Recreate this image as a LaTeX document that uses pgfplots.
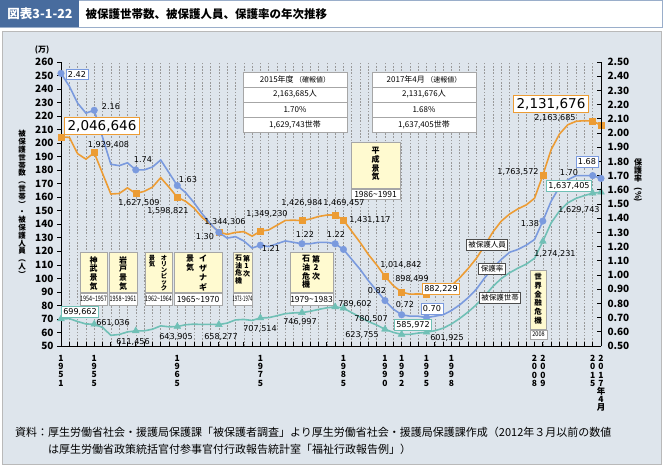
\documentclass[border=0pt]{standalone}
\usepackage{pgfplots}
\usepackage{pgfplotstable}
\pgfplotsset{compat=1.18}
\usepackage{fontspec}
\setmainfont{Noto Sans CJK JP}
\newfontfamily\numf{DejaVu Sans}
\definecolor{bg}{RGB}{222,229,236}
\definecolor{orn}{RGB}{236,156,52}
\definecolor{blu}{RGB}{122,154,222}
\definecolor{tea}{RGB}{112,192,182}
\definecolor{ttl}{RGB}{72,108,158}
\definecolor{ylw}{RGB}{255,250,208}
\newcommand\lb{\numf\fontsize{8.1}{9}\selectfont}

\pgfplotstableread{
yr pers rate hh
1951 204.66 2.42 69.97
1952 204.26 2.33 70.25
1953 192.21 2.21 68.11
1954 188.17 2.14 66.30
1955 192.94 2.16 66.10
1956 177.60 1.97 63.76
1957 162.37 1.78 57.90
1958 162.76 1.77 58.50
1959 166.92 1.79 60.40
1960 162.75 1.74 61.15
1961 164.34 1.74 61.20
1962 167.40 1.76 62.40
1963 174.46 1.81 64.90
1964 167.47 1.72 64.19
1965 159.88 1.63 64.39
1966 157.01 1.58 65.72
1967 152.07 1.51 66.16
1968 145.00 1.43 65.91
1969 139.87 1.36 66.05
1970 134.43 1.30 65.83
1971 132.52 1.26 66.94
1972 134.00 1.27 69.28
1973 134.55 1.24 69.65
1974 131.23 1.19 68.90
1975 134.92 1.21 70.75
1976 135.83 1.20 70.96
1977 139.31 1.22 72.36
1978 142.83 1.24 73.92
1979 143.05 1.23 74.48
1980 142.70 1.22 74.70
1981 143.92 1.22 75.67
1982 145.74 1.23 77.04
1983 146.82 1.23 78.23
1984 146.95 1.22 78.96
1985 143.11 1.18 78.05
1986 134.82 1.11 74.64
1987 126.61 1.04 71.38
1988 117.63 0.96 68.10
1989 109.95 0.89 65.49
1990 101.48 0.82 62.38
1991 94.64 0.76 60.07
1992 89.85 0.72 58.60
1993 88.31 0.71 58.61
1994 88.49 0.71 59.54
1995 88.22 0.70 60.19
1996 88.75 0.71 61.31
1997 90.56 0.72 63.15
1998 94.70 0.75 66.31
1999 100.45 0.79 70.41
2000 107.22 0.84 75.13
2001 114.81 0.90 80.52
2002 124.27 0.98 87.09
2003 134.43 1.05 94.13
2004 142.34 1.11 99.89
2005 147.58 1.16 104.15
2006 151.39 1.18 107.58
2007 154.33 1.21 110.53
2008 159.26 1.25 114.88
2009 176.36 1.38 127.42
2010 195.21 1.52 141.00
2011 206.72 1.62 149.84
2012 213.57 1.67 155.85
2013 216.16 1.70 159.18
2014 216.59 1.70 161.23
2015 216.37 1.70 162.97
2016 213.17 1.68 163.74
}\mydata

\pgfplotstableread{
yr pers rate hh
1951 204.66 2.42 69.97
1955 192.94 2.16 66.10
1960 162.75 1.74 61.15
1965 159.88 1.63 64.39
1970 134.43 1.30 65.83
1975 134.92 1.21 70.75
1980 142.70 1.22 74.70
1984 146.95 1.22 78.96
1985 143.11 1.18 78.05
1990 101.48 0.82 62.38
1992 89.85 0.72 58.60
1995 88.22 0.70 60.19
2009 176.36 1.38 127.42
2015 216.37 1.70 162.97
2016 213.17 1.68 163.74
}\mymarks

\pgfplotsset{geom/.style={at={(61pt,120pt)}, anchor=south west, scale only axis,
  width=540pt, height=284pt, xmin=1951, xmax=2016, clip=false}}

\begin{document}
\begin{tikzpicture}
\useasboundingbox (0,0) rectangle (663pt,466pt);
\begin{scope}[x=1pt,y=-1pt,shift={(0pt,466pt)}]
 \fill[white] (0,0) rectangle (663,466);
 \draw[ttl!55, line width=0.8pt, fill=white] (0.5,0.5) rectangle (662.5,27);
 \fill[ttl] (0,0) rectangle (79,27.5);
 \node[white, font=\fontsize{12.5}{13}\bfseries\selectfont] at (40,14) {図表3-1-22};
 \node[font=\fontsize{11.5}{12}\bfseries\selectfont, anchor=west] at (82,14) {被保護世帯数、被保護人員、保護率の年次推移};
 \draw[gray!55, line width=1pt, fill=bg] (2,32) rectangle (661,464);
 \node[font=\fontsize{11}{12}\selectfont, anchor=west, inner sep=0pt] at (15,432) {資料：厚生労働省社会・援護局保護課「被保護者調査」より厚生労働省社会・援護局保護課作成（2012年３月以前の数値};
 \node[font=\fontsize{11}{12}\selectfont, anchor=west, inner sep=0pt] at (48,449) {は厚生労働省政策統括官付参事官付行政報告統計室「福祉行政報告例」）};
 \node[font=\fontsize{8}{8}\bfseries\selectfont] at (42,50) {(万)};
 \node[font=\fontsize{7.5}{7.8}\bfseries\selectfont, align=center, inner sep=0pt] at (22,204)
   {被\\保\\護\\世\\帯\\数\\︵\\世\\帯\\︶\\・\\被\\保\\護\\人\\員\\︵\\人\\︶};
 \node[font=\fontsize{8}{8.2}\bfseries\selectfont, align=center, inner sep=0pt, anchor=north] at (638,158) {保\\護\\率};
 \node[font=\fontsize{8}{8}\bfseries\selectfont, inner sep=0pt] at (638,195) {\rotatebox{-90}{(\%)}};
\end{scope}

% axis 1: grid, left axis, x axis
\begin{axis}[geom, ymin=50, ymax=260,
  axis x line*=bottom, axis y line*=left,
  axis line style={line width=0.9pt, black},
  xtick={1951,...,2016}, xticklabels={},
  xmajorgrids, major grid style={gray!80, line width=0.5pt, dash pattern=on 1.6pt off 1.6pt},
  xtick align=inside, ytick align=outside, major tick length=4pt,
  tick style={black, line width=0.7pt},
  ytick={50,60,...,260},
  yticklabel style={font=\fontsize{10}{10}\bfseries\selectfont},
  /pgf/number format/assume math mode=true,
  extra x ticks={1951,1955,1965,1975,1985,1990,1992,1995,1998,2008,2009,2015,2016},
  extra x tick labels={{1\\9\\5\\1},{1\\9\\5\\5},{1\\9\\6\\5},{1\\9\\7\\5},{1\\9\\8\\5},{1\\9\\9\\0},{1\\9\\9\\2},{1\\9\\9\\5},{1\\9\\9\\8},{2\\0\\0\\8},{2\\0\\0\\9},{2\\0\\1\\5},{2\\0\\1\\7\\年\\4\\月}},
  extra x tick style={grid=none, major tick length=0pt,
    tick label style={align=center, anchor=north, yshift=-6pt, font=\fontsize{8.5}{8.1}\bfseries\selectfont}},
]
\addplot[draw=none] coordinates {(1951,50)};
\end{axis}

% decorations behind series
\begin{scope}[x=1pt,y=-1pt,shift={(0pt,466pt)}, ebox/.style={draw=gray!70, fill=ylw, line width=0.6pt}, ybox/.style={draw=gray!70, fill=white, line width=0.6pt},
  vt/.style={align=center, inner sep=0pt, anchor=north}]
 % tables
 \foreach \x in {243,372}{
   \draw[gray!70, fill=white, line width=0.6pt] (\x,72) rectangle (\x+104,132);
   \foreach \y in {87,102,117} \draw[gray!70, line width=0.6pt] (\x,\y) -- (\x+104,\y);
 }
 \begin{scope}[every node/.style={font=\fontsize{8}{8}\selectfont, inner sep=0pt}]
 \node at (295,79.5) {2015年度\,{\fontsize{7}{7}\selectfont（確報値）}};
 \node at (295,94.5) {2,163,685人};
 \node at (295,109.5) {1.70\%};
 \node at (295,124.5) {1,629,743世帯};
 \node at (424,79.5) {2017年4月\,{\fontsize{7}{7}\selectfont（速報値）}};
 \node at (424,94.5) {2,131,676人};
 \node at (424,109.5) {1.68\%};
 \node at (424,124.5) {1,637,405世帯};
 \end{scope}
 % event boxes
 \draw[ebox] (80,252) rectangle (107,292); \draw[ybox] (80,293) rectangle (107,305);
 \draw[ebox] (109,252) rectangle (137,292); \draw[ybox] (109,293) rectangle (137,305);
 \draw[ebox] (145,252) rectangle (172,292); \draw[ybox] (145,293) rectangle (172,305);
 \draw[ebox] (174,252) rectangle (222,292); \draw[ybox] (174,293) rectangle (222,305);
 \draw[ebox] (233,252) rectangle (252,292); \draw[ybox] (233,293) rectangle (252,305);
 \draw[ebox] (290,252) rectangle (333,292); \draw[ybox] (290,293) rectangle (333,305);
 \draw[ebox] (351,142) rectangle (400,188); \draw[ybox] (351,189) rectangle (400,199);
 \draw[ebox] (530,270) rectangle (546,329); \draw[ybox] (530,330) rectangle (547,339);
 \begin{scope}[every node/.style={vt, font=\fontsize{8}{8.8}\bfseries\selectfont}]
 \node at (93.5,256) {神\\武\\景\\気};
 \node at (123,256) {岩\\戸\\景\\気};
 \node[font=\fontsize{6.3}{6}\bfseries\selectfont] at (164,255) {オ\\リ\\ン\\ピ\\ッ\\ク};
 \node[font=\fontsize{6.3}{6.5}\bfseries\selectfont] at (152,255) {景\\気};
 \node[font=\fontsize{8}{9.5}\bfseries\selectfont] at (203,255) {イ\\ザ\\ナ\\ギ};
 \node at (190,255) {景\\気};
 \node[font=\fontsize{7}{7.5}\bfseries\selectfont] at (246.5,255) {第\\1\\次};
 \node[font=\fontsize{7}{7.5}\bfseries\selectfont] at (238.5,255) {石\\油\\危\\機};
 \node at (316,255) {第\\2\\次};
 \node at (306,255) {石\\油\\危\\機};
 \node at (375.5,147) {平\\成\\景\\気};
 \node[font=\fontsize{7.5}{8.8}\bfseries\selectfont] at (538,273) {世\\界\\金\\融\\危\\機};
 \end{scope}
 \begin{scope}[every node/.style={inner sep=0pt, font=\fontsize{7.5}{7.5}\selectfont}]
 \node at (93.5,299) {\scalebox{0.72}[1]{1954\textasciitilde1957}};
 \node at (123,299) {\scalebox{0.72}[1]{1958\textasciitilde1961}};
 \node at (158.5,299) {\scalebox{0.72}[1]{1962\textasciitilde1964}};
 \node[font=\fontsize{8.5}{8.5}\selectfont] at (198,299) {1965\textasciitilde1970};
 \node at (242.5,299) {\scalebox{0.55}[1]{1973-1974}};
 \node[font=\fontsize{8.5}{8.5}\selectfont] at (311.5,299) {1979\textasciitilde1983};
 \node[font=\fontsize{8.5}{8.5}\selectfont] at (375.5,194) {1986\textasciitilde1991};
 \node[font=\fontsize{6.5}{6.5}\selectfont] at (538.5,334.5) {\scalebox{0.85}[1]{2008}};
 \end{scope}
\end{scope}

% axis 2: persons and households
\begin{axis}[geom, ymin=50, ymax=260, hide axis]
\addplot[tea, line width=1.6pt] table[x=yr, y=hh]{\mydata};
\addplot[only marks, mark=triangle*, mark size=4pt, tea] table[x=yr, y=hh]{\mymarks};
\addplot[orn, line width=1.6pt] table[x=yr, y=pers]{\mydata};
\addplot[only marks, mark=square*, mark size=3pt, orn] table[x=yr, y=pers]{\mymarks};
\end{axis}

% axis 3: rate
\begin{axis}[geom, ymin=0.5, ymax=2.5,
  axis y line*=right, axis x line=none,
  axis line style={line width=0.9pt, black},
  ytick={0.5,0.6,0.7,0.8,0.9,1.0,1.1,1.2,1.3,1.4,1.5,1.6,1.7,1.8,1.9,2.0,2.1,2.2,2.3,2.4,2.5},
  ytick align=inside, major tick length=4pt, tick style={black, line width=0.7pt},
  yticklabel style={font=\fontsize{10}{10}\bfseries\selectfont, xshift=3pt},
  /pgf/number format/assume math mode=true,
  /pgf/number format/.cd, fixed, fixed zerofill, precision=2]
\addplot[blu, line width=1.6pt] table[x=yr, y=rate]{\mydata};
\addplot[only marks, mark=*, mark size=3.3pt, blu] table[x=yr, y=rate]{\mymarks};
\end{axis}

% data labels
\begin{scope}[x=1pt,y=-1pt,shift={(0pt,466pt)}, every node/.style={font=\lb, inner sep=0pt},
  bx/.style={fill=white, line width=0.9pt, inner sep=2pt}]
 % persons
 \node[bx, draw=orn, font=\numf\fontsize{13.5}{14}\selectfont, inner sep=3pt] at (102,126) {2,046,646};
 \node at (108.5,145) {1,929,408};
 \node at (139,203) {1,627,509};
 \node at (168,211) {1,598,821};
 \node at (225,222) {1,344,306};
 \node at (267,214) {1,349,230};
 \node at (302,203) {1,426,984};
 \node at (344,203) {1,469,457};
 \node at (370,220) {1,431,117};
 \node at (401,265) {1,014,842};
 \node at (412,279) {898,499};
 \node[bx, draw=orn] at (441,289) {882,229};
 \node at (518,172) {1,763,572};
 \node at (555,118) {2,163,685};
 \node[bx, draw=orn, font=\numf\fontsize{13.5}{14}\selectfont, inner sep=3pt] at (551,104) {2,131,676};
 % households
 \node[bx, draw=tea] at (80,312) {699,662};
 \node at (113,323) {661,036};
 \node at (133,342) {611,456};
 \node at (176,337) {643,905};
 \node at (221,337) {658,277};
 \node at (260,329) {707,514};
 \node at (300,322) {746,997};
 \node at (355,304) {789,602};
 \node at (371,319) {780,507};
 \node at (362,335) {623,755};
 \node[bx, draw=tea] at (413,325) {585,972};
 \node at (447,338) {601,925};
 \node at (555,254) {1,274,231};
 \node at (579,210) {1,629,743};
 \node[bx, draw=tea] at (569,186) {1,637,405};
 % rate
 \node[bx, draw=blu] at (77,74) {2.42};
 \node at (111,107) {2.16};
 \node at (143,160) {1.74};
 \node at (188,180) {1.63};
 \node at (205,237) {1.30};
 \node at (271,248) {1.21};
 \node at (305,234) {1.22};
 \node at (336,234) {1.22};
 \node at (377,291) {0.82};
 \node at (405,305) {0.72};
 \node[bx, draw=blu] at (432,309) {0.70};
 \node at (530,224) {1.38};
 \node at (569,173) {1.70};
 \node[bx, draw=blu] at (587,162) {1.68};
 % series names
 \begin{scope}[every node/.style={draw=gray!60!black, fill=white, line width=0.6pt, inner sep=2pt, font=\fontsize{7.5}{7.5}\selectfont}]
 \node at (487,245) {被保護人員};
 \node at (492,269) {保護率};
 \node at (500,298) {被保護世帯};
 \end{scope}
\end{scope}
\end{tikzpicture}
\end{document}
